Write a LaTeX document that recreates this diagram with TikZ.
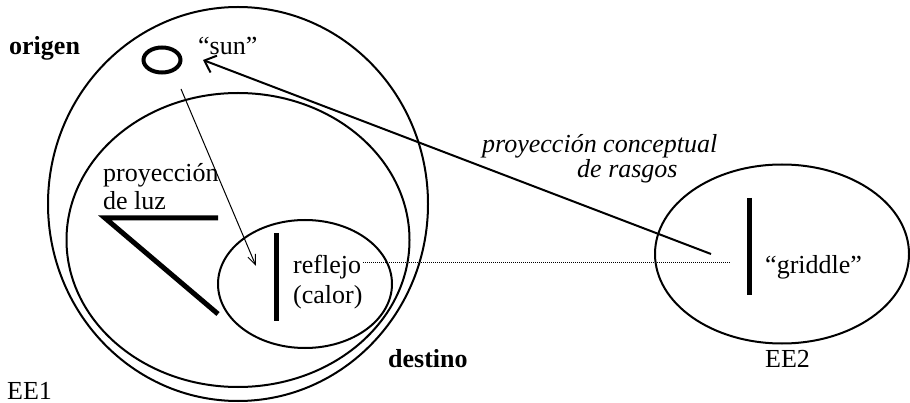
\documentclass[tikz,border=0pt]{standalone}
\usepackage{fontspec}
\setmainfont{Liberation Serif}
\usepackage{tikz}
\usetikzlibrary{arrows.meta,positioning,shapes.geometric}

\begin{document}
\begin{tikzpicture}[
  x=1pt, y=-1pt,
  region/.style={ellipse, draw, line width=2pt, inner sep=0pt},
  txt/.style={font=\fontsize{26}{30}\selectfont, inner sep=0pt, anchor=base west},
  bar/.style={line width=5pt},
  beam/.style={line width=1pt, -{Straight Barb[length=10pt,width=8pt]}},
  mapping/.style={line width=2pt, -{Straight Barb[length=10pt,width=18pt]}}
]
  \useasboundingbox (0,0) rectangle (910,403);

  % espacios
  \node[region, minimum width=380pt, minimum height=394pt] (ee1) at (238,204) {};
  \node[region, minimum width=343pt, minimum height=294pt] (dest) at (238,240) {};
  \node[region, minimum width=174pt, minimum height=128pt] (refl) at (305,284) {};
  \node[region, minimum width=254pt, minimum height=179pt] (ee2) at (782,254) {};
  \node[ellipse, draw, line width=4pt, minimum width=37pt, minimum height=25pt, inner sep=0pt] (sun) at (162,60) {};

  % textos
  \node[txt, font=\fontsize{26}{30}\selectfont\bfseries] (origen) at (9,55) {origen};
  \node[txt] (suntxt) at (198,55) {“sun”};
  \node[txt] (luz1) at (103,182) {proyección};
  \node[txt] (luz2) at (103,210) {de luz};
  \node[txt] (refl1) at (293,273) {reflejo};
  \node[txt] (refl2) at (293,304) {(calor)};
  \node[txt] (gridtxt) at (765,273) {“griddle”};
  \node[txt, font=\fontsize{26}{30}\selectfont\bfseries] (destino) at (388,367) {destino};
  \node[txt] (ee1txt) at (7,399) {EE1};
  \node[txt] (ee2txt) at (765,367) {EE2};
  \node[txt, font=\fontsize{26}{30}\selectfont\itshape] (proy1) at (482,153) {proyección conceptual};
  \node[txt, font=\fontsize{26}{30}\selectfont\itshape] (proy2) at (577,178) {de rasgos};

  % rayos y superficies
  \coordinate (luzA) at (105,218);
  \coordinate (luzB) at (218,218);
  \coordinate (luzC) at (218,314);
  \draw[bar] (luzB) -- (luzA) -- (luzC);
  \coordinate (reflT) at (276,233);
  \coordinate (reflB) at (276,321);
  \draw[bar] (reflT) -- (reflB);
  \coordinate (gridT) at (749,198);
  \coordinate (gridB) at (749,295);
  \draw[bar] (gridT) -- (gridB);

  % proyecciones
  \coordinate (beamS) at (181,89);
  \coordinate (beamE) at (256,266);
  \draw[beam] (beamS) -- (beamE);
  \coordinate (mapS) at (711,254);
  \coordinate (mapE) at (203,60);
  \draw[mapping] (mapS) -- (mapE);
  \coordinate (dotS) at (363,262);
  \coordinate (dotE) at (730,262);
  \draw[line width=0.7pt, dash pattern=on 1pt off 1pt] (dotS) -- (dotE);
\end{tikzpicture}
\end{document}
